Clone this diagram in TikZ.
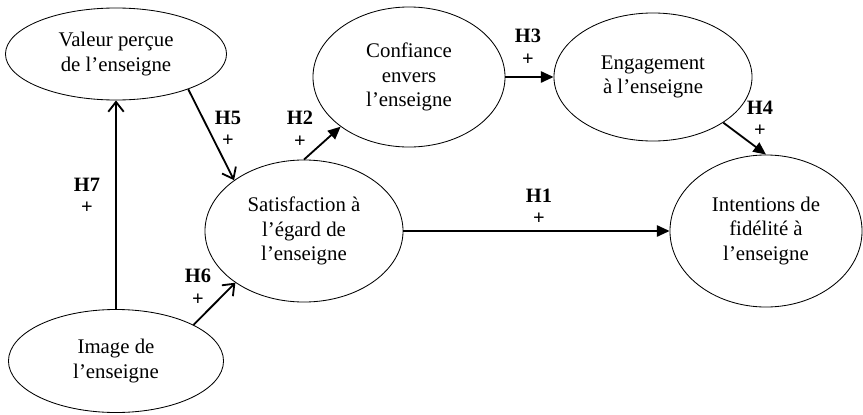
\documentclass[tikz,border=0pt]{standalone}
\usepackage{fontspec}
\setmainfont{Liberation Serif}
\usepackage{tikz}
\usetikzlibrary{shapes.geometric, arrows.meta}

\begin{document}
\begin{tikzpicture}[x=0.025cm, y=-0.025cm,
        construct/.style={draw, ellipse, line width=0.6pt, inner sep=0pt, align=center,
            font=\fontsize{14.8}{17.3}\selectfont},
        hyp/.style={align=center, font=\fontsize{14.5}{16}\selectfont\bfseries},
        open/.style={line width=1.3pt, -{Straight Barb[length=7pt, width=11pt]}},
        filled/.style={line width=1.3pt, -{Triangle[length=9pt, width=8pt]}}]
        \useasboundingbox (0,0) rectangle (863,415);

        % Constructs
        \node[construct, minimum width=5.525cm, minimum height=2.3cm] (valeur) at (116,54) {Valeur perçue\\de l’enseigne};
        \node[construct, minimum width=4.8cm, minimum height=3.5cm] (confiance) at (409,77) {Confiance\\envers\\l’enseigne};
        \node[construct, minimum width=4.95cm, minimum height=3.2cm] (engagement) at (653,77) {Engagement\\à l’enseigne};
        \node[construct, minimum width=4.95cm, minimum height=3.55cm] (satisfaction) at (304,231) {Satisfaction à\\l’égard de\\l’enseigne};
        \node[construct, minimum width=4.8cm, minimum height=3.8cm] (intentions) at (766,231) {Intentions de\\fidélité à\\l’enseigne};
        \node[construct, minimum width=5.375cm, minimum height=2.575cm] (image) at (116,361) {Image de\\l’enseigne};

        % Arrows
        \draw[open] (image) -- (valeur);
        \draw[open] (valeur.-26) -- (satisfaction.144);
        \draw[open] (image.25) -- (satisfaction.217);
        \draw[filled] (satisfaction.north) -- (confiance.216);
        \draw[filled] (confiance.east) -- (engagement.west);
        \draw[filled] (engagement.-33) -- (intentions.north);
        \draw[filled] (satisfaction.east) -- (intentions.west);

        % Hypotheses
        \node[hyp] (h1) at (539,207) {H1\\+};
        \node[hyp] (h2) at (300,129) {H2\\+};
        \node[hyp] (h3) at (528,47) {H3\\+};
        \node[hyp] (h4) at (760,119) {H4\\+};
        \node[hyp] (h5) at (228,129) {H5\\+};
        \node[hyp] (h6) at (198,287) {H6\\+};
        \node[hyp] (h7) at (87,196) {H7\\+};

    \end{tikzpicture}
\end{document}
